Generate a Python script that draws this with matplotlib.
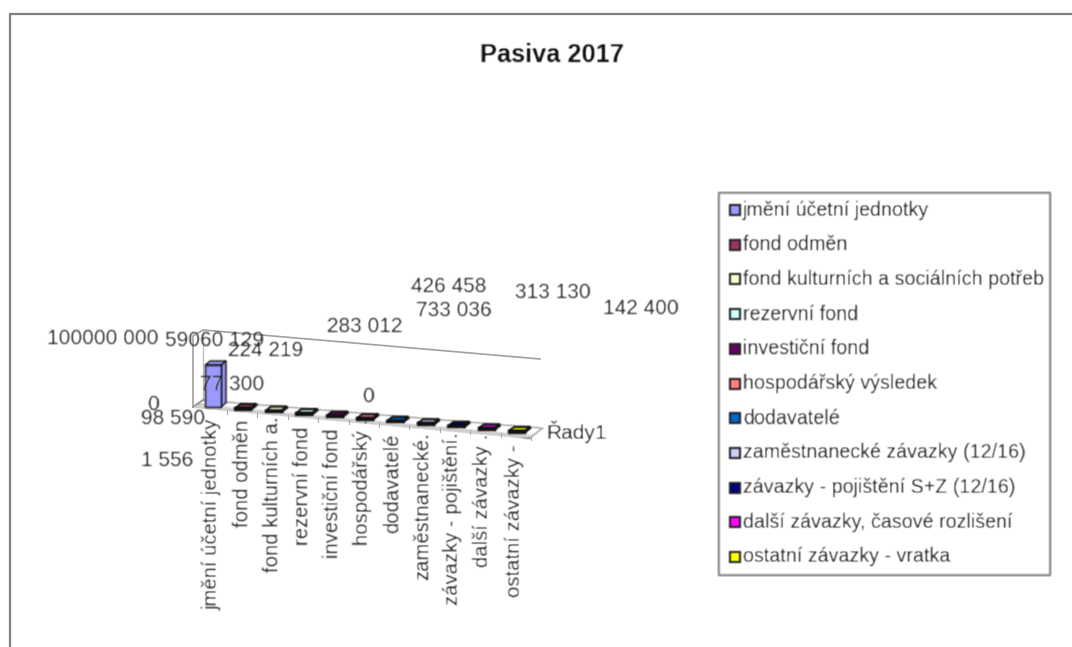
# Pasiva 2017 - falso 3D de Excel, dibujado en coordenadas de pixel

import matplotlib
matplotlib.use("Agg")
import matplotlib.pyplot as plt
import numpy as np
from matplotlib.patches import Polygon, Rectangle

plt.rcParams["font.family"] = ["Liberation Sans", "DejaVu Sans"]

kategorie = ["jmění účetní jednotky", "fond odměn", "fond kulturních a.", "rezervní fond",
             "investiční fond", "hospodářský .", "dodavatelé", "zaměstnanecké.",
             "závazky - pojištění.", "další závazky .", "ostatní závazky -"]
legenda = ["jmění účetní jednotky", "fond odměn", "fond kulturních a sociálních potřeb",
           "rezervní fond", "investiční fond", "hospodářský výsledek", "dodavatelé",
           "zaměstnanecké závazky (12/16)", "závazky - pojištění S+Z (12/16)",
           "další závazky, časové rozlišení", "ostatní závazky - vratka"]
hodnoty = [59060129, 77300, 224219, 98590, 1556, 0, 283012, 733036, 426458, 313130, 142400]
popisky = ["59060 129", "77 300", "224 219", "98 590", "1 556", "0", "283 012",
           "733 036", "426 458", "313 130", "142 400"]
barvy = ["#9999FF", "#993366", "#FFFFCC", "#CCFFFF", "#660066", "#FF8080", "#0066CC",
         "#CCCCFF", "#000080", "#FF00FF", "#FFFF00"]
osa_max = 100000000

# rozlozeni v pixelech
popisky_xy = [(214, 341), (232, 384), (266, 350), (173, 418), (167, 461), (368, 396),
              (365, 327), (454, 311), (449, 286), (553, 293), (641, 308)]
kategorie_x = [212, 242, 272, 302, 332, 362, 393, 423, 453, 483, 515]
kategorie_dole = [610, 527, 572, 545, 558, 545, 533, 580, 605, 567, 597]
VYSKA_OSY = 71
PISMO = 15


def rozmaz(img, dpi):
    # obrazek je v originale rozmazany
    img = np.pad(img, ((2, 2), (2, 2), (0, 0)))
    k = np.array([1, 2, 1]) / 4
    for osa in (0, 1):
        img = np.apply_along_axis(lambda r: np.convolve(r, k, mode="same"), osa, img)
    return img, -2, -2


fig = plt.figure(figsize=(10.72, 6.47), dpi=100)
ax = fig.add_axes([0, 0, 1, 1])
ax.set_xlim(0, 1072)
ax.set_ylim(647, 0)
ax.axis("off")

# ramecek grafu
ax.plot([10, 10, 1072], [647, 14, 14], color="#808080", lw=1.6)

ax.text(552, 55, "Pasiva 2017", ha="center", va="center", fontsize=18.3, fontweight="bold", color="#111111")

# steny a podlaha
ax.add_patch(Polygon([(193, 407), (530, 438), (543, 428), (203, 400)], fc="white", ec="#999999", lw=1))
ax.plot([193, 193, 203, 540], [407, 336, 330, 359], color="#a0a0a0", lw=1.2)
ax.plot([203, 203], [330, 400], color="#c0c0c0", lw=1)
ax.plot([193, 203], [407, 400], color="#909090", lw=1)
# sedy pruh na podlaze
ax.add_patch(Polygon([(193, 407), (530, 438), (533, 435), (197, 404)], fc="#d0d0d0", ec="none"))

for i, (h, b) in enumerate(zip(hodnoty, barvy)):
    x0 = 205 + 30.4 * i
    y0 = 407 + 2.55 * i
    s = 16
    dx, dy = 5, -4
    v = max(h / osa_max * VYSKA_OSY, 1.5)
    ec = "#111111"
    lw = 1 if i == 0 else 1.6
    ax.add_patch(Polygon([(x0 + s, y0), (x0 + s + dx, y0 + dy), (x0 + s + dx, y0 + dy - v), (x0 + s, y0 - v)],
                         fc=b, ec=ec, lw=lw, zorder=3))
    ax.add_patch(Polygon([(x0, y0 - v), (x0 + dx, y0 - v + dy), (x0 + s + dx, y0 - v + dy), (x0 + s, y0 - v)],
                         fc=b, ec=ec, lw=lw, zorder=3))
    ax.add_patch(Rectangle((x0, y0 - v), s, v, fc=b, ec=ec, lw=lw, zorder=3))
    ax.plot([x0 + s + 6, x0 + s + 6], [y0 + 3, y0 + 7], color="#aaaaaa", lw=0.8)

# popisky os
ax.text(158, 339, "100000 000", ha="right", va="center", fontsize=PISMO, color="#222222")
ax.text(153, 404, "0", ha="center", va="center", fontsize=PISMO, color="#222222")
ax.text(546, 432, "Řady1", ha="left", va="center", fontsize=PISMO, color="#222222")

for t, (x, y) in zip(popisky, popisky_xy):
    ax.text(x, y, t, ha="center", va="center", fontsize=PISMO, color="#222222", zorder=4)

for t, x, y in zip(kategorie, kategorie_x, kategorie_dole):
    ax.text(x, y, t, rotation=90, ha="center", va="bottom", fontsize=14.6, color="#222222")

# legenda
ax.add_patch(Rectangle((719, 193), 331, 382, fc="white", ec="#808080", lw=1.2))
for i, (t, b) in enumerate(zip(legenda, barvy)):
    y = 210 + 34.7 * i
    ax.add_patch(Rectangle((730, y - 5), 10, 10, fc=b, ec="#222222", lw=1.4))
    ax.text(743, y, t, ha="left", va="center", fontsize=14.1, color="#222222")

for a in ax.texts + ax.patches:
    a.set_agg_filter(rozmaz)

fig.savefig("out.png", dpi=100)
